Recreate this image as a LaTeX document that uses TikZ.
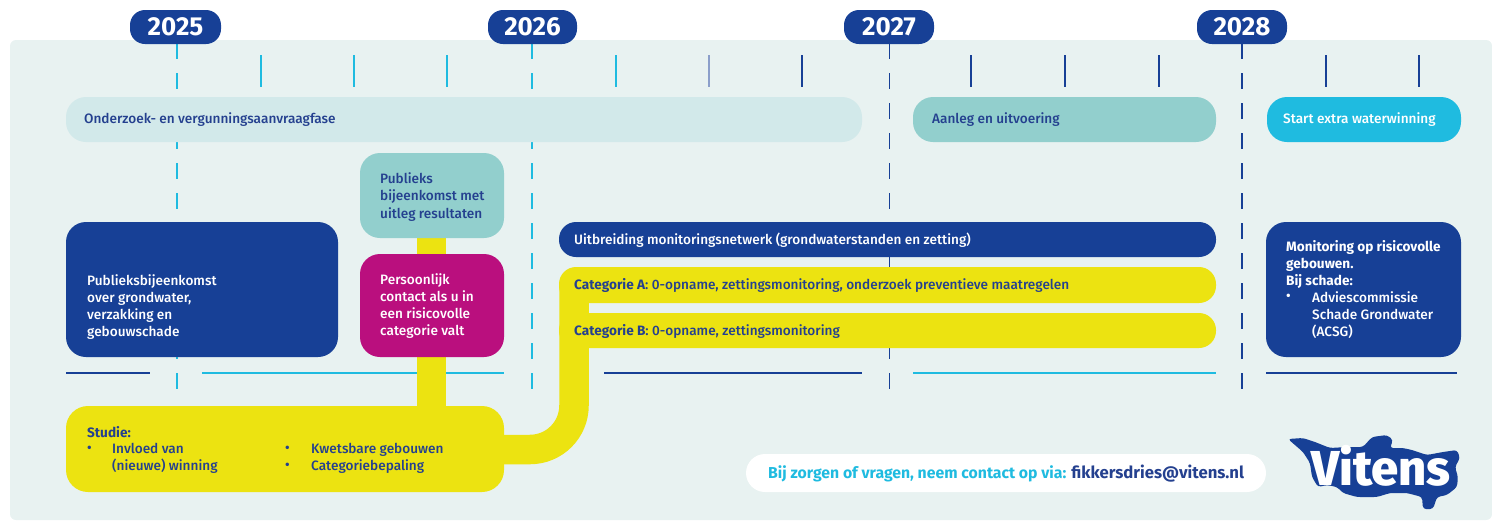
\documentclass[tikz,border=0pt]{standalone}
\usepackage{fontspec}
\setmainfont{Fira Sans Medium}[BoldFont={Fira Sans Bold}]
\newfontfamily\logofont{Fira Sans ExtraBold}
\definecolor{bgc}{HTML}{E8F2F1}
\definecolor{navy}{HTML}{174096}
\definecolor{txtn}{HTML}{24408F}
\definecolor{cyanx}{HTML}{1FBBE0}
\definecolor{lteal}{HTML}{D2E9EA}
\definecolor{teal}{HTML}{92CFCD}
\definecolor{yel}{HTML}{ECE311}
\definecolor{mag}{HTML}{BA0F7E}
\newcommand{\bul}{\vphantom{Ag}•}
\tikzset{
 x=1pt,y=-1pt,
 year/.style={fill=navy,rounded corners=15pt,text=white,minimum height=34pt,font=\fontsize{26}{26}\selectfont\bfseries,inner sep=0pt,anchor=center},
 bar/.style={rounded corners=#1,anchor=center,inner sep=0pt},
 dashc/.style={line width=1.3pt,dash pattern=on 16pt off 14pt},
 tick/.style={line width=1.1pt},
 hline/.style={line width=1.3pt},
 lbl/.style={anchor=west,inner sep=0pt,font=\fontsize{13.6}{17.1}\selectfont,align=left},
}
\begin{document}
\begin{tikzpicture}
\useasboundingbox (0,0) rectangle (1492,520);
\fill[bgc,rounded corners=6pt] (10,40) -- (1492,40) -- (1492,520) -- (10,520) -- cycle;
% coordinates
\coordinate (d1) at (177,43); \coordinate (e1) at (177,390);
\coordinate (d2) at (532,43); \coordinate (e2) at (532,390);
\coordinate (d3) at (889.3,43); \coordinate (e3) at (889.3,390);
\coordinate (d4) at (1242,43); \coordinate (e4) at (1242,390);
\draw[dashc,cyanx] (d1)--(e1);
\draw[dashc,cyanx] (d2)--(e2);
\draw[dashc,navy] (d3)--(e3);
\draw[dashc,navy] (d4)--(e4);
\foreach \x in {261,354,447,616} \draw[tick,cyanx] (\x,55)--(\x,87);
\draw[tick,navy!50] (709,55)--(709,87);
\foreach \x in {802,971,1065,1159,1326,1419} \draw[tick,navy] (\x,55)--(\x,87);
\draw[hline,navy] (66,373)--(150,373);
\draw[hline,cyanx] (202,373)--(504,373);
\draw[hline,navy] (604,373)--(862,373);
\draw[hline,cyanx] (913,373)--(1216,373);
\draw[hline,navy] (1266,373)--(1457,373);
% years
\node[year,minimum width=91pt] (y25) at (175.5,27) {2025};
\node[year,minimum width=89pt] (y26) at (532.5,27) {2026};
\node[year,minimum width=90pt] (y27) at (889,27) {2027};
\node[year,minimum width=90pt] (y28) at (1242,27) {2028};
% phase bars
\node[bar=20pt,fill=lteal,minimum width=796pt,minimum height=45pt] (ph1) at (464,119.5) {};
\node[lbl,text=txtn] (ph1t) at (84,120) {Onderzoek- en vergunningsaanvraagfase};
\node[bar=20pt,fill=teal,minimum width=303pt,minimum height=45pt] (ph2) at (1064.5,119.5) {};
\node[lbl,text=txtn] (ph2t) at (932,120) {Aanleg en uitvoering};
\node[bar=20pt,fill=cyanx,minimum width=194pt,minimum height=45pt] (ph3) at (1364,119.5) {};
\node[lbl,text=white] (ph3t) at (1283,120) {Start extra waterwinning};
% yellow network
\node[bar=22pt,fill=yel,minimum width=438pt,minimum height=86pt] (stu) at (285,449) {};
\coordinate (cu) at (431.5,238); \coordinate (cd) at (431.5,410);
\draw[yel,line width=29.5pt] (cu)--(cd);
\coordinate (sa) at (500,449.5); \coordinate (sb) at (574,285);
\draw[yel,line width=29.5pt] (sa) -- (530,449.5) arc[start angle=90,end angle=0,radius=44] -- (sb);
\node[bar=17pt,fill=yel,minimum width=657pt,minimum height=35pt] (catb) at (887.5,330.5) {};
\node[bar=17pt,fill=yel,minimum width=657pt,minimum height=36pt] (cata) at (887.5,285) {};
\node[lbl,text=txtn] (catat) at (574,285.5) {\textbf{Categorie A}: 0-opname, zettingsmonitoring, onderzoek preventieve maatregelen};
\node[lbl,text=txtn] (catbt) at (574,331.5) {\textbf{Categorie B}: 0-opname, zettingsmonitoring};
% boxes
\node[bar=20pt,fill=navy,minimum width=272pt,minimum height=135pt] (pb) at (202,289.5) {};
\node[lbl,text=white] (pbt) at (87,307) {Publieksbijeenkomst\\over grondwater,\\verzakking en\\gebouwschade};
\node[bar=20pt,fill=teal,minimum width=144pt,minimum height=85pt] (tb) at (432,195.5) {};
\node[lbl,text=txtn] (tbt) at (380,197) {Publieks\\bijeenkomst met\\uitleg resultaten};
\node[bar=20pt,fill=mag,minimum width=144pt,minimum height=103pt] (mb) at (432,305.5) {};
\node[lbl,text=white] (mbt) at (380,306) {Persoonlijk\\contact als u in\\een risicovolle\\categorie valt};
\node[bar=17pt,fill=navy,minimum width=657pt,minimum height=35pt] (uit) at (887.5,239.5) {};
\node[lbl,text=white] (uitt) at (574,240) {Uitbreiding monitoringsnetwerk (grondwaterstanden en zetting)};
\node[bar=20pt,fill=navy,minimum width=195pt,minimum height=135pt] (mon) at (1363.5,289.5) {};
\node[lbl,text=white,anchor=north west] (mont) at (1286,240) {\textbf{Monitoring op risicovolle}\\\textbf{gebouwen.}\\\textbf{Bij schade:}};
\node[lbl,text=white,anchor=north west] (monb) at (1286,291) {\bul};
\node[lbl,text=white,anchor=north west] (monc) at (1312,291) {Adviescommissie\\Schade Grondwater\\(ACSG)};
% studie text
\node[lbl,text=txtn,anchor=north west] (st1) at (87,426) {\textbf{Studie:}};
\node[lbl,text=txtn,anchor=north west] (st2) at (87,443) {\bul};
\node[lbl,text=txtn,anchor=north west] (st3) at (112,443) {Invloed van\\(nieuwe) winning};
\node[lbl,text=txtn,anchor=north west] (st4) at (285,443) {\bul\\\bul};
\node[lbl,text=txtn,anchor=north west] (st5) at (311,443) {Kwetsbare gebouwen\\Categoriebepaling};
% contact
\node[bar=19pt,fill=white,minimum width=520pt,minimum height=38pt] (con) at (1006,473) {};
\node[lbl,text=cyanx,font=\fontsize{15.8}{18}\selectfont\bfseries] (cont) at (768,473.5) {Bij zorgen of vragen, neem contact op via: \textcolor{txtn}{\fontsize{16.7}{18}\selectfont fikkersdries@vitens.nl}};
% logo
\fill[navy,rounded corners=3pt] (1288,439) -- (1303,438) -- (1315,442) -- (1330,448) -- (1347,447) -- (1363,447) -- (1372,437) -- (1387,435) -- (1393,440) -- (1390,448) -- (1403,448) -- (1412,450) -- (1427,455) -- (1443,452) -- (1457,450) -- (1460,458) -- (1455,467) -- (1458,477) -- (1457,487) -- (1447,495) -- (1437,497) -- (1433,509) -- (1423,509) -- (1422,497) -- (1407,493) -- (1390,493) -- (1377,497) -- (1357,497) -- (1343,493) -- (1337,487) -- (1327,485) -- (1318,487) -- (1312,477) -- (1310,463) -- (1303,452) -- cycle;
\node[anchor=base west,inner sep=0pt,text=white,font=\logofont\fontsize{49}{49}\selectfont] (logo) at (1311,485) {Vitens};
\end{tikzpicture}
\end{document}
